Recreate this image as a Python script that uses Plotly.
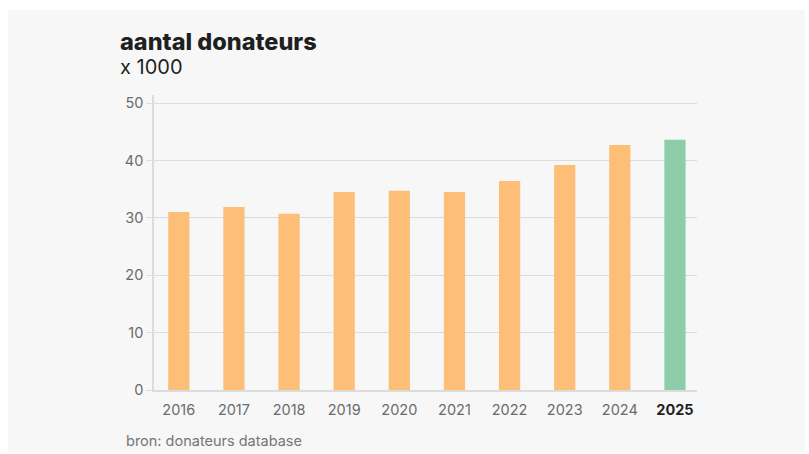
import plotly.graph_objects as go

years = ["2016", "2017", "2018", "2019", "2020", "2021", "2022", "2023", "2024", "2025"]
donors = [31.0, 31.9, 30.7, 34.5, 34.7, 34.5, 36.4, 39.2, 42.7, 43.6]
bar_colors = ["#FDBE78"] * 9 + ["#8DCDAA"]
tick_labels = [f"<span style='color:#6b6b6b'>{y}</span>" for y in years[:-1]] + ["<b><span style='color:#1f1f1f'>2025</span></b>"]
title = "aantal donateurs"
subtitle = "x 1000"
source = "bron: donateurs database"

W, H = 809, 454
L, R, T, B = 154, 697, 95, 390

def px(x):
    return (x - L) / (R - L)

def py(y):
    return (B - y) / (B - T)

fig = go.Figure(go.Bar(x=list(range(len(years))), y=donors, marker_color=bar_colors,
                       marker_line_width=0, width=0.385, hoverinfo="skip"))

fig.update_layout(
    width=W, height=H,
    margin=dict(l=L, r=W - R, t=T, b=H - B, pad=0),
    paper_bgcolor="white", plot_bgcolor="rgba(0,0,0,0)",
    font=dict(family="Inter, sans-serif", color="#6b6b6b", size=14),
    showlegend=False,
    xaxis=dict(range=[-0.45, 9.4], tickmode="array", tickvals=list(range(len(years))),
               ticktext=tick_labels, showgrid=False, showline=True, linecolor="#dcdcdc",
               linewidth=2, ticks="", tickfont=dict(size=14.5), ticklabelstandoff=6,
               zeroline=False, fixedrange=True),
    yaxis=dict(range=[0, 51.4], tickvals=[0, 10, 20, 30, 40, 50], showgrid=True,
               gridcolor="#dcdcdc", gridwidth=1, showline=True, linecolor="#dcdcdc", linewidth=1.5,
               ticks="outside", ticklen=6, tickcolor="#dcdcdc", tickfont=dict(size=14.5),
               zeroline=False, fixedrange=True),
    shapes=[dict(type="rect", xref="paper", yref="paper", x0=px(8), x1=px(805), y0=py(452), y1=py(10),
                 fillcolor="#f7f7f7", line_width=0, layer="below")],
    annotations=[
        dict(text=title, xref="paper", yref="paper", x=px(118), y=py(42), xanchor="left",
             yanchor="middle", showarrow=False, font=dict(size=23.5, color="#1f1f1f", weight=800)),
        dict(text=subtitle, xref="paper", yref="paper", x=px(118), y=py(67), xanchor="left",
             yanchor="middle", showarrow=False, font=dict(size=20, color="#1f1f1f")),
        dict(text=source, xref="paper", yref="paper", x=px(124), y=py(440), xanchor="left",
             yanchor="middle", showarrow=False, font=dict(size=14.5, color="#767676")),
    ],
)

fig.write_html("out.html")
